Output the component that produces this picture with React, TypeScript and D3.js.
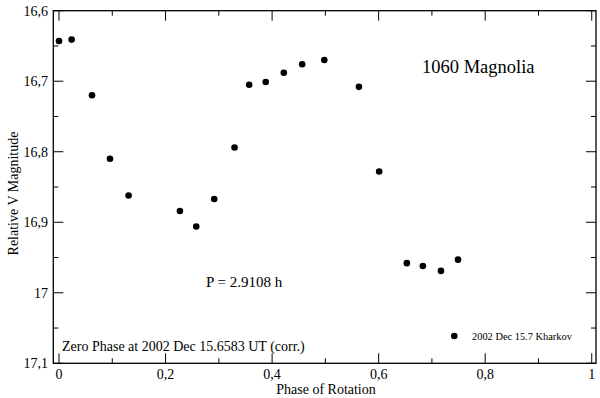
import React from "react";
import * as d3 from "d3";

const phases = [0.0, 0.0237, 0.062, 0.0957, 0.1306, 0.227, 0.2576, 0.2914, 0.3295, 0.357, 0.388, 0.422, 0.4565, 0.498, 0.563, 0.601, 0.653, 0.683, 0.717, 0.749];
const mags = [16.643, 16.641, 16.72, 16.81, 16.862, 16.884, 16.906, 16.867, 16.794, 16.705, 16.701, 16.688, 16.676, 16.67, 16.708, 16.828, 16.958, 16.962, 16.969, 16.953];
const xMajor = [0, 0.2, 0.4, 0.6, 0.8, 1];
const xMinor = [0.1, 0.3, 0.5, 0.7, 0.9];
const yMajor = [16.6, 16.7, 16.8, 16.9, 17.0, 17.1];
const yMinor = [16.65, 16.75, 16.85, 16.95, 17.05];
const title = "1060 Magnolia";
const periodText = "P = 2.9108 h";
const zeroText = "Zero Phase at 2002 Dec 15.6583 UT (corr.)";
const legendText = "2002 Dec 15.7 Kharkov";

const W = 600, H = 398;
const L = 53.3, R = 596, T = 10.7, B = 363.3;
const FONT = '"Liberation Serif", "DejaVu Serif", "Times New Roman", Times, serif';

const fmt = (v: number) => {
  const s = d3.format(".1f")(v);
  return (s.endsWith(".0") ? s.slice(0, -2) : s).replace(".", ",");
};

export default function App() {
  const x = d3.scaleLinear().domain([-0.0107, 1.008]).range([L, R]);
  const y = d3.scaleLinear().domain([16.6, 17.1]).range([T, B]);
  const maj = 10, min = 5;
  return (
    <svg width={W} height={H} style={{ position: "absolute", left: 0, top: 0, background: "#fff", fontFamily: FONT }}>
      <rect x={0} y={0} width={W} height={H} fill="#fff" />
      <g stroke="#000" strokeWidth={1}>
        {xMajor.map((v) => (
          <g key={"xm" + v}>
            <line x1={x(v)} x2={x(v)} y1={B} y2={B - maj} />
            <line x1={x(v)} x2={x(v)} y1={T} y2={T + maj} />
          </g>
        ))}
        {xMinor.map((v) => (
          <g key={"xn" + v}>
            <line x1={x(v)} x2={x(v)} y1={B} y2={B - min} />
            <line x1={x(v)} x2={x(v)} y1={T} y2={T + min} />
          </g>
        ))}
        {yMajor.map((v) => (
          <g key={"ym" + v}>
            <line x1={L} x2={L + maj} y1={y(v)} y2={y(v)} />
            <line x1={R} x2={R - maj} y1={y(v)} y2={y(v)} />
          </g>
        ))}
        {yMinor.map((v) => (
          <g key={"yn" + v}>
            <line x1={L} x2={L + min} y1={y(v)} y2={y(v)} />
            <line x1={R} x2={R - min} y1={y(v)} y2={y(v)} />
          </g>
        ))}
      </g>
      <rect x={L} y={T} width={R - L} height={B - T} fill="none" stroke="#000" strokeWidth={1.3} />
      <g style={{ fontFamily: FONT }}>
        {xMajor.map((v) => (
          <text key={"xl" + v} x={x(v)} y={379} textAnchor="middle" fontSize={14}>{fmt(v)}</text>
        ))}
        {yMajor.map((v) => (
          <text key={"yl" + v} x={48} y={y(v) + 5} textAnchor="end" fontSize={14}>{fmt(v)}</text>
        ))}
        <text x={326} y={394} textAnchor="middle" fontSize={14}>Phase of Rotation</text>
        <text transform={`translate(17.5,193.5) rotate(-90)`} textAnchor="middle" fontSize={14}>Relative V Magnitude</text>
        <text x={422} y={73} fontSize={18.5}>{title}</text>
        <text x={206} y={286.5} fontSize={15}>{periodText}</text>
        <text x={62} y={351} fontSize={14}>{zeroText}</text>
        <text x={472} y={339.5} fontSize={10.4}>{legendText}</text>
      </g>
      {phases.map((p, i) => (
        <circle key={"p" + i} cx={x(p)} cy={y(mags[i])} r={3.3} fill="#000" />
      ))}
      <circle cx={454.3} cy={336} r={3.3} fill="#000" />
    </svg>
  );
}
